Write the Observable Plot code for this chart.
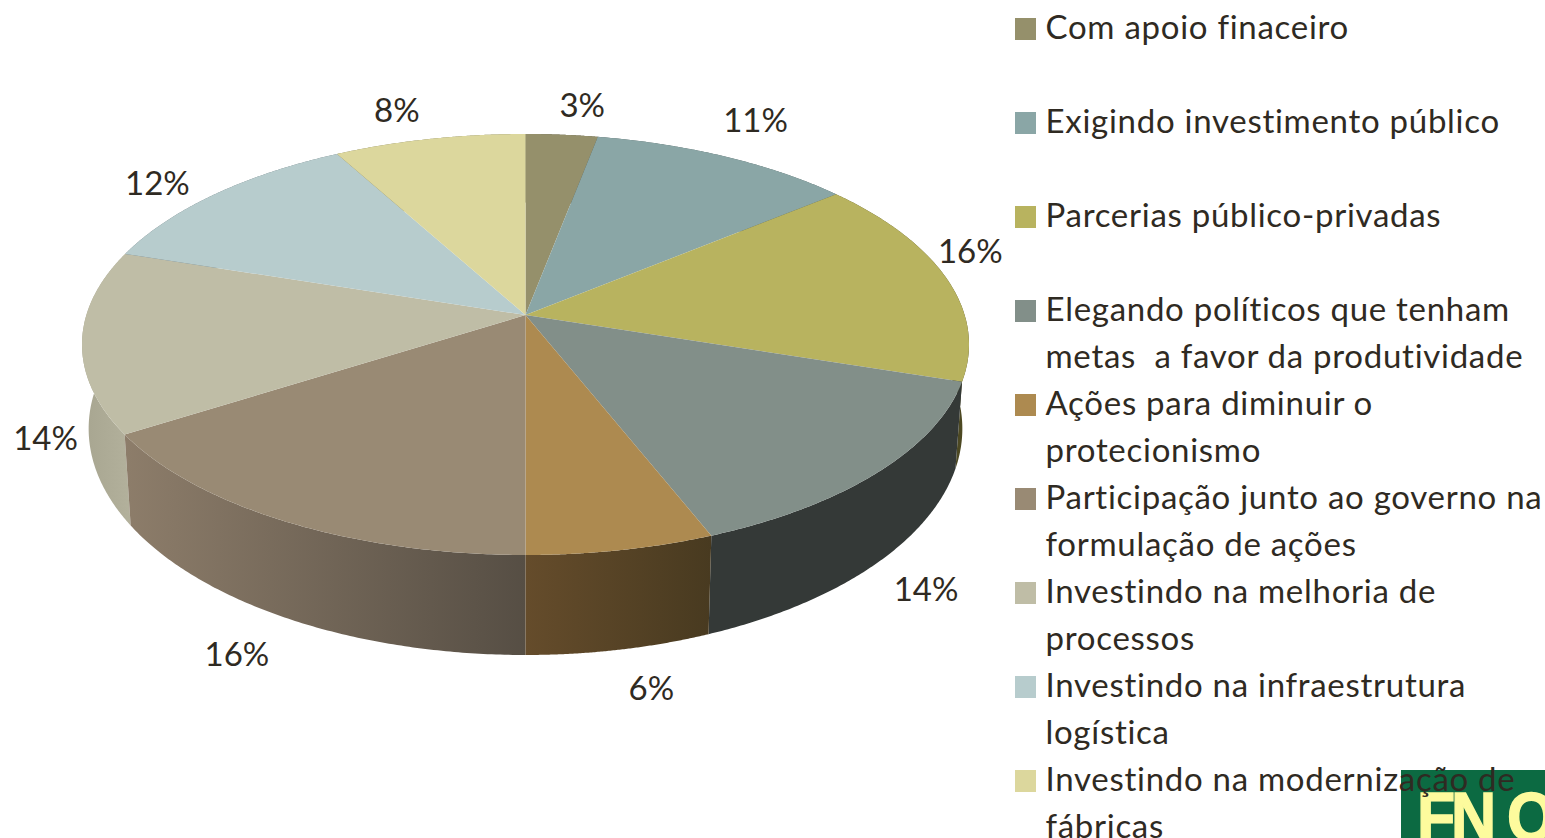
<!DOCTYPE html>
<html lang="pt">
<head>
<meta charset="utf-8">
<title>Pizza 3D</title>
<script src="https://cdn.jsdelivr.net/npm/d3@7"></script>
<script src="https://cdn.jsdelivr.net/npm/@observablehq/plot@0.6"></script>
<style>
  html, body { margin: 0; padding: 0; background: #fff; overflow: hidden; }
  #stage { position: relative; width: 1545px; height: 838px; overflow: hidden; font-family: Lato, sans-serif; color: #2f2a22; }
  #logo { position: absolute; left: 1401px; top: 770px; width: 144px; height: 68px; overflow: hidden; background: #0c6a42;
          color: #fdfb9d; font: bold 68px/68px "Liberation Sans", sans-serif; white-space: pre; -webkit-text-stroke: 1.5px #fdfb9d; }
  #logo > span { position: absolute; left: 16.4px; top: 11.5px; transform: scaleX(0.92); transform-origin: left top; }
  #legend { position: absolute; left: 1015px; top: 3px; }
  .item { display: flex; height: 94px; }
  .swatch { flex: none; width: 21px; height: 22px; margin-top: 15px; margin-right: 9.5px; }
  .label { font-size: 33px; line-height: 47px; white-space: pre; letter-spacing: 0.72px; }
</style>
</head>
<body>
<div id="stage"></div>
<script>
const categories = [
  "Com apoio finaceiro",
  "Exigindo investimento público",
  "Parcerias público-privadas",
  "Elegando políticos que tenham\nmetas  a favor da produtividade",
  "Ações para diminuir o\nprotecionismo",
  "Participação junto ao governo na\nformulação de ações",
  "Investindo na melhoria de\nprocessos",
  "Investindo na infraestrutura\nlogística",
  "Investindo na modernização de\nfábricas"
];
const shares = [3, 11, 16, 14, 6, 16, 14, 12, 8];
const topColors = ["#95906b", "#8aa6a6", "#b8b35f", "#828f89", "#ad8a50", "#998a74", "#bfbda6", "#b7cccd", "#dcd79d"];
const wallStart = ["#55523c", "#4e5e5e", "#56522a", "#343937", "#654c2b", "#8d7d6a", "#a7a590", "#68757a", "#7d7a58"];
const wallEnd   = ["#55523c", "#4e5e5e", "#4c4822", "#343937", "#483a20", "#564e44", "#b3b19c", "#68757a", "#7d7a58"];
const labelShift = [[20,-29],[30,-36],[24,-25],[46,119],[30,139],[-48,134],[-37,98],[-58,-10],[-33,-28]];

// Perspective of the tilted disc: the apex sits above the centre of the rim ellipse.
const tilt = -0.14;
const rimTop = t => {
  const x = Math.sin(t), y = -Math.cos(t), d = 1 + tilt * y;
  return [x * Math.sqrt(1 - tilt * tilt) / d, (y + tilt) / d];
};
// Lower rim in the same units as the upper one.
const depthX = 0.985, depthRy = 1.075, depthCy = 0.40;
const rimLow = t => {
  const [x, y] = rimTop(t);
  return [x * depthX, depthCy + y * depthRy];
};

const slices = d3.pie().sort(null).value(d => d)(shares);
const arcAngles = s => d3.range(0, 121).map(i => s.startAngle + (s.endAngle - s.startAngle) * i / 120);
const apex = [0, tilt];

const faceRows = slices.flatMap((s, i) => arcAngles(s).map(t => {
  const [x, y] = rimTop(t);
  return {category: categories[i], x1: apex[0], y1: apex[1], x2: x, y2: y};
}));
const wallRows = slices.map(s => arcAngles(s).map(t => {
  const [xa, ya] = rimTop(t), [xb, yb] = rimLow(t);
  return {x1: xa, y1: ya, x2: xb, y2: yb};
}));
const labelRows = slices.map((s, i) => {
  const [x, y] = rimTop((s.startAngle + s.endAngle) / 2);
  return {x, y, text: shares[i] + "%", shift: labelShift[i]};
});

// Back to front, by the height of each slice's middle on the rim.
const wallOrder = d3.sort(d3.range(slices.length), i => rimTop((slices[i].startAngle + slices[i].endAngle) / 2)[1]);

const gradients = () => {
  const defs = d3.create("svg:defs");
  shares.forEach((_, i) => {
    const g = defs.append("linearGradient").attr("id", "wall" + i);
    g.append("stop").attr("offset", 0).attr("stop-color", wallStart[i]);
    g.append("stop").attr("offset", 1).attr("stop-color", wallEnd[i]);
  });
  return defs.node();
};

const chart = Plot.plot({
  width: 1545,
  height: 838,
  margin: 0,
  style: {background: "transparent", position: "absolute", left: 0, top: 0, fontFamily: "Lato, sans-serif"},
  x: {domain: [-1, 1], range: [82, 969], axis: null},
  y: {domain: [-1, 1], range: [134, 555], axis: null},
  color: {domain: categories, range: topColors},
  marks: [
    gradients,
    ...wallOrder.map(i => Plot.area(wallRows[i], {
      x1: "x1", y1: "y1", x2: "x2", y2: "y2", fill: `url(#wall${i})`
    })),
    Plot.area(faceRows, {
      x1: "x1", y1: "y1", x2: "x2", y2: "y2", z: "category", fill: "category"
    }),
    ...labelRows.map(d => Plot.text([d], {
      x: "x", y: "y", text: "text", dx: d.shift[0], dy: d.shift[1],
      fontSize: 33, fill: "#2f2a22", textAnchor: "middle"
    }))
  ]
});

const stage = document.getElementById("stage");
stage.append(chart);

const logo = document.createElement("div");
logo.id = "logo";
logo.innerHTML = '<span><span style="letter-spacing:-4.5px">F</span><span style="letter-spacing:11.6px">N</span><span>Q</span></span>';
stage.append(logo);

const legend = document.createElement("div");
legend.id = "legend";
categories.forEach((c, i) => {
  const item = document.createElement("div");
  item.className = "item";
  const sw = document.createElement("div");
  sw.className = "swatch";
  sw.style.background = topColors[i];
  const lab = document.createElement("div");
  lab.className = "label";
  lab.textContent = c;
  item.append(sw, lab);
  legend.append(item);
});
stage.append(legend);
</script>
</body>
</html>
